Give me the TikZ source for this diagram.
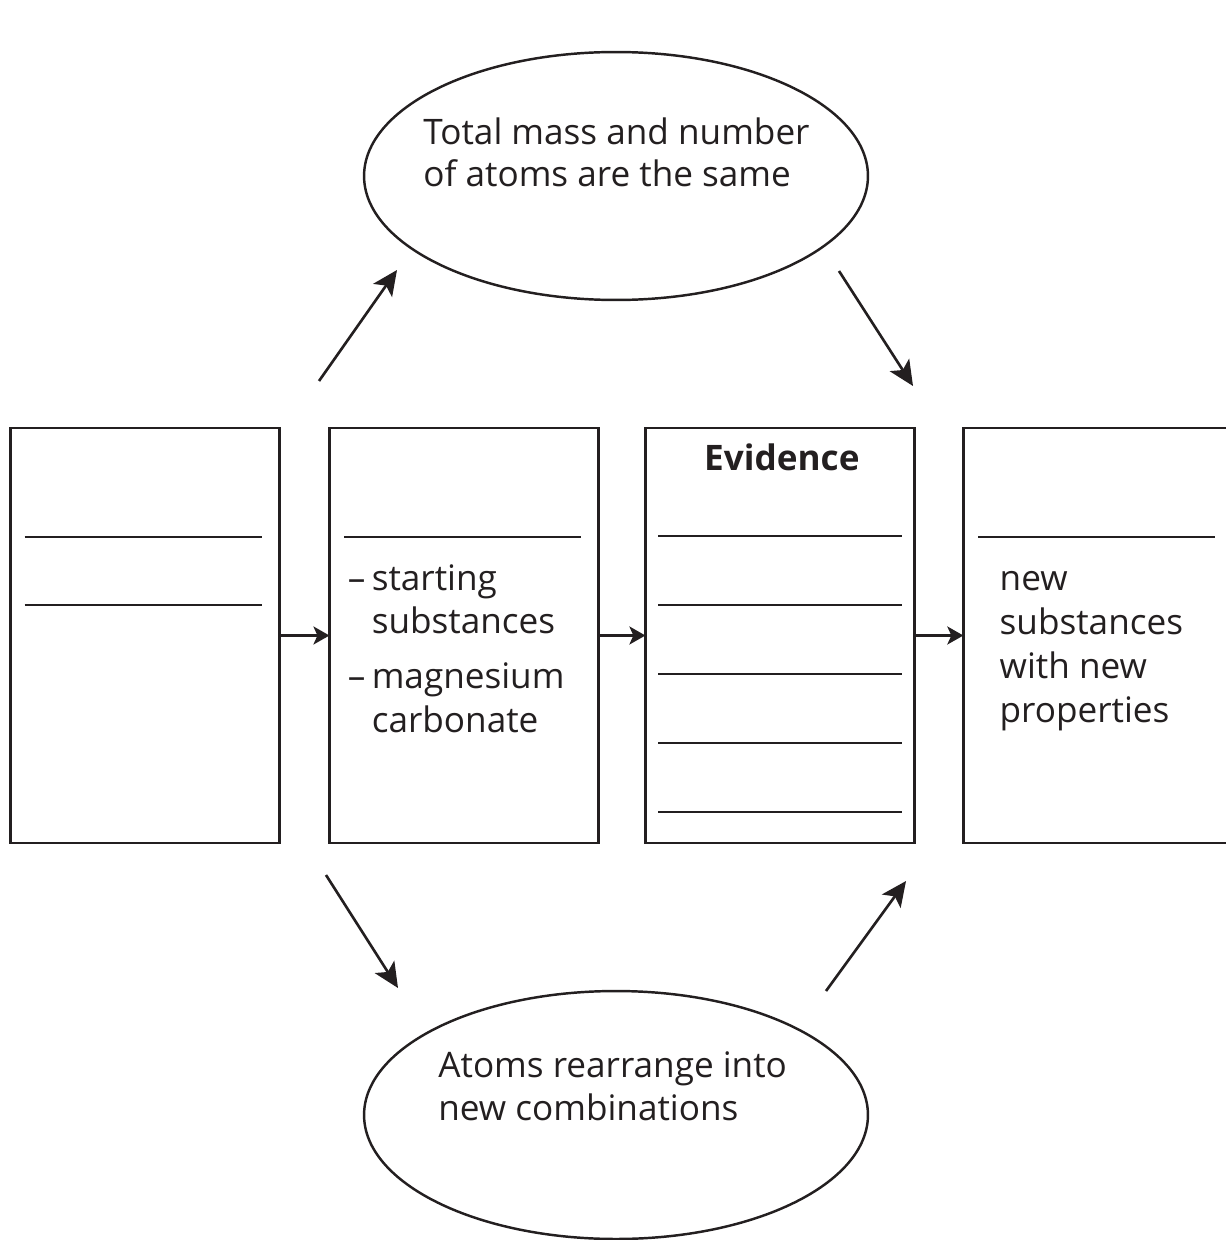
\documentclass[tikz,border=0pt]{standalone}
\usepackage{fontspec}
\setmainfont{Open Sans}
\usetikzlibrary{arrows.meta,calc,positioning,shapes.geometric}
\definecolor{ink}{RGB}{35,31,32}

\begin{document}
\begin{tikzpicture}[
  x=0.02cm, y=-0.02cm,
  >={Stealth[length=0.5cm, width=0.46cm, inset=0.12cm]},
  card/.style={draw=ink, line width=1.6pt, minimum width=5.38cm,
               minimum height=8.3cm, inner sep=0pt, outer sep=0pt},
  bubble/.style={draw=ink, line width=1.4pt, ellipse, minimum width=10.08cm,
                 minimum height=4.96cm, inner sep=0pt},
  words/.style={text=ink, font=\fontsize{20}{25}\selectfont, align=left, inner sep=0pt},
  blank/.style={draw=ink, line width=1.1pt},
  flow/.style={->, draw=ink, line width=1.5pt},
  link/.style={-{Stealth[length=0.32cm, width=0.36cm, inset=0.08cm]},
               draw=ink, line width=1.5pt}
]
  \useasboundingbox (0,0) rectangle (1226,1240);

  % the four boxes of the chain
  \node[card] (b1) at (145,635.5) {};
  \node[card, right=1.0cm of b1] (b2) {};
  \node[card, right=0.94cm of b2] (b3) {};
  \node[card, right=0.98cm of b3] (b4) {};

  \draw[link] (b1) -- (b2);
  \draw[link] (b2) -- (b3);
  \draw[link] (b3) -- (b4);

  % blanks to fill in
  \foreach \dy in {109,177}
    \draw[blank] ($(b1.north west)+(14,\dy)$) -- +(237,0);
  \draw[blank] ($(b2.north west)+(15,109)$) -- +(237,0);
  \foreach \k in {0,...,4}
    \draw[blank] ($(b3.north west)+(13,108+69*\k)$) -- +(244,0);
  \draw[blank] ($(b4.north west)+(15,109)$) -- +(237,0);

  \node[words, font=\fontsize{20}{25}\selectfont\bfseries, anchor=base]
    (evid) at ($(b3.north)+(2,42)$) {Evidence};

  \node[words, anchor=base west] (start) at ($(b2.north west)+(18,162)$)
  {\begin{tabular}[t]{@{}p{0.48cm}@{}l@{}}
    -- & starting\\
       & substances\\[0.22cm]
    -- & magnesium\\
       & carbonate
   \end{tabular}};

  \node[words, anchor=base west] (prod) at ($(b4.north west)+(36,294)$)
    {new\\substances\\with new\\properties};

  % the two ideas
  \node[bubble] (mass) at (616,176) {};
  \node[words, font=\fontsize{20}{24}\selectfont, anchor=base west]
    (masstxt) at ($(mass.center)+(-193,11)$)
    {Total mass and number\\of atoms are the same};

  \node[bubble] (atoms) at (616,1115) {};
  \node[words, font=\fontsize{20}{24}\selectfont, anchor=base west]
    (atomstxt) at ($(atoms.center)+(-178,5)$)
    {Atoms rearrange into\\new combinations};

  \coordinate (up1) at (319,381);   \coordinate (up2) at (397,270);
  \coordinate (dn1) at (839,271);   \coordinate (dn2) at (913,386);
  \coordinate (lo1) at (326,875);   \coordinate (lo2) at (398,988);
  \coordinate (rt1) at (826,991);   \coordinate (rt2) at (906,881);

  \draw[flow] (up1) -- (up2);
  \draw[flow] (dn1) -- (dn2);
  \draw[flow] (lo1) -- (lo2);
  \draw[flow] (rt1) -- (rt2);
\end{tikzpicture}
\end{document}
